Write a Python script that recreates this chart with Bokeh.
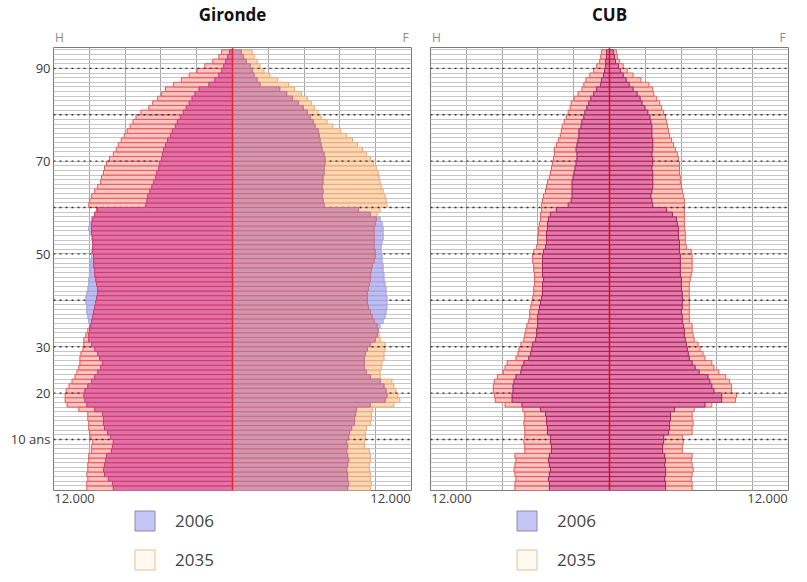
from bokeh.plotting import figure
from bokeh.models import (ColumnDataSource, FixedTicker, Range1d, Legend,
                          LegendItem, Span, LinearAxis)
from bokeh.layouts import row, column
from bokeh.transform import dodge
from bokeh.embed import file_html
from bokeh.resources import INLINE

FONT = "Open Sans"

# ---------------- data ----------------
ages = list(range(95))                      # single years of age 0..94
age_ticks = [10, 20, 30, 50, 70, 90]
age_tick_overrides = {10: "10 ans"}
decades = [10, 20, 30, 40, 50, 60, 70, 80, 90]
x_max = 12000
x_grid = [-9600, -7200, -4800, -2400, 2400, 4800, 7200, 9600]
x_tick_label = "12.000"
legend_labels = ["2006", "2035"]
titles = ["Gironde", "CUB"]
side_labels = ["H", "F"]

gironde_h_2006 = [7990, 8050, 8320, 8580, 8650, 8580, 8510, 8450, 8120, 8050,
                  7990, 8180, 8380, 8580, 8650, 8650, 8710, 9240, 9770, 9900,
                  9970, 9900, 9700, 9440, 9240, 9040, 8840, 8710, 8910, 9040,
                  9240, 9440, 9640, 9640, 9570, 9500, 9640, 9700, 9770, 9770,
                  9830, 9830, 9770, 9700, 9640, 9640, 9570, 9570, 9500, 9500,
                  9440, 9440, 9370, 9370, 9440, 9500, 9640, 9570, 9440, 9240,
                  9040, 5810, 5740, 5680, 5540, 5410, 5280, 5150, 5080, 4950,
                  4880, 4750, 4690, 4620, 4490, 4360, 4160, 4030, 3830, 3700,
                  3500, 3300, 3100, 2900, 2710, 2510, 2240, 1580, 1190, 920,
                  730, 590, 460, 330, 200]
gironde_h_2035 = [9770, 9770, 9700, 9770, 9700, 9700, 9640, 9640, 9440, 9440,
                  9370, 9500, 9570, 9640, 9640, 9700, 9700, 10300, 11090, 11220,
                  11220, 11150, 10960, 10760, 10560, 10430, 10300, 10230, 10230, 10160,
                  10030, 9970, 9970, 9830, 9700, 9570, 9440, 9370, 9310, 9240,
                  9170, 9110, 9040, 9040, 9110, 9170, 9240, 9240, 9310, 9310,
                  9310, 9370, 9370, 9370, 9370, 9440, 9440, 9440, 9370, 9240,
                  9110, 9640, 9570, 9440, 9240, 9040, 8840, 8780, 8650, 8580,
                  8450, 8250, 7990, 7790, 7660, 7460, 7260, 7060, 6860, 6670,
                  6470, 6140, 5610, 5350, 5020, 4750, 4490, 3960, 3430, 2900,
                  2380, 1850, 1320, 920, 730]
gironde_f_2006 = [7720, 7790, 7720, 7720, 7660, 7720, 7790, 7720, 7660, 7720,
                  7660, 7790, 7850, 7990, 8180, 8180, 8250, 8320, 9240, 10230,
                  10360, 10300, 10160, 9900, 9240, 8980, 8840, 8840, 8840, 8910,
                  9040, 9240, 9570, 9700, 9770, 9900, 10100, 10230, 10300, 10360,
                  10360, 10360, 10300, 10300, 10230, 10160, 10160, 10100, 10100, 10030,
                  10030, 9970, 9970, 10030, 10100, 10100, 10100, 10030, 9900, 9240,
                  8450, 6140, 6070, 6010, 6070, 6010, 6070, 6070, 6140, 6140,
                  6200, 6200, 6140, 6010, 5940, 5870, 5810, 5740, 5540, 5410,
                  5210, 5020, 4750, 4420, 4030, 3630, 3170, 1850, 1650, 1450,
                  1320, 1190, 920, 730, 590]
gironde_f_2035 = [9240, 9310, 9240, 9240, 9170, 9170, 9240, 9240, 9170, 8840,
                  8840, 8910, 8910, 8980, 9240, 9310, 9310, 9370, 10820, 11220,
                  11090, 10960, 10820, 10690, 9900, 9900, 9970, 10030, 10160, 10160,
                  10230, 10230, 9900, 9830, 9770, 9700, 9500, 9370, 9240, 9110,
                  9040, 9040, 9040, 9110, 9170, 9240, 9240, 9310, 9370, 9500,
                  9570, 9570, 9500, 9500, 9500, 9500, 9500, 9570, 9640, 9700,
                  9900, 10360, 10300, 10230, 10100, 9970, 9900, 9830, 9770, 9640,
                  9440, 9240, 8980, 8710, 8380, 8050, 7660, 7260, 6730, 6340,
                  5940, 5740, 5480, 5280, 5020, 4620, 4160, 3760, 3040, 2510,
                  2110, 1850, 1650, 1450, 1320]

cub_h_2006 = [4030, 4030, 4090, 4030, 3960, 4030, 4090, 4030, 3890, 3890,
              3960, 3960, 4160, 4160, 4220, 4220, 4290, 4620, 5870, 6530,
              6530, 6470, 6470, 6400, 6270, 5940, 5870, 5740, 5410, 5280,
              5210, 5150, 4950, 4880, 4880, 4820, 4820, 4820, 4750, 4690,
              4620, 4550, 4490, 4490, 4490, 4420, 4490, 4490, 4490, 4490,
              4490, 4420, 4290, 4220, 4220, 4220, 4160, 4160, 4090, 3960,
              3560, 2770, 2570, 2510, 2510, 2510, 2510, 2440, 2380, 2310,
              2240, 2180, 2180, 2240, 2180, 2110, 2050, 2050, 1910, 1850,
              1720, 1650, 1520, 1390, 1250, 1060, 860, 590, 530, 400,
              330, 260, 260, 200, 200]
cub_h_2035 = [6340, 6340, 6270, 6340, 6400, 6340, 6270, 6340, 5680, 5680,
              5740, 5680, 5680, 5680, 5740, 5680, 5680, 5810, 7000, 7660,
              7720, 7790, 7790, 7720, 7520, 7130, 7000, 6860, 6270, 6140,
              6070, 5940, 5740, 5680, 5610, 5540, 5410, 5350, 5350, 5280,
              5210, 5150, 5080, 5080, 5020, 5020, 5020, 5080, 5080, 5150,
              5150, 5080, 4880, 4820, 4820, 4750, 4750, 4690, 4620, 4620,
              4550, 4550, 4490, 4420, 4290, 4220, 4160, 4030, 3960, 3890,
              3830, 3760, 3700, 3700, 3560, 3430, 3300, 3230, 3170, 3040,
              2900, 2770, 2640, 2570, 2380, 2110, 1850, 1720, 1580, 1320,
              1060, 860, 660, 590, 530]
cub_f_2006 = [3760, 3760, 3700, 3760, 3760, 3700, 3760, 3700, 3560, 3560,
              3630, 3630, 3960, 4030, 4030, 4090, 4090, 4360, 6400, 7520,
              7520, 7000, 6860, 6730, 6600, 6010, 5740, 5540, 5350, 5280,
              5210, 5150, 5080, 5020, 5020, 4950, 4880, 4880, 4820, 4880,
              4880, 4880, 4880, 4820, 4820, 4820, 4750, 4750, 4750, 4750,
              4750, 4690, 4690, 4690, 4620, 4620, 4620, 4550, 4490, 4220,
              3830, 2900, 2840, 2770, 2840, 2900, 2900, 2900, 2900, 2840,
              2900, 2900, 2840, 2900, 2900, 2900, 2840, 2840, 2840, 2770,
              2710, 2570, 2380, 2180, 2050, 1850, 1580, 1320, 1120, 920,
              730, 590, 400, 330, 260]
cub_f_2035 = [5540, 5540, 5480, 5540, 5610, 5540, 5480, 5540, 4880, 4880,
              4950, 4880, 5540, 5540, 5610, 5540, 5540, 5680, 6860, 8450,
              8510, 8180, 8180, 8050, 7790, 7330, 7000, 6860, 6400, 6270,
              6070, 5940, 5680, 5610, 5540, 5540, 5350, 5350, 5350, 5350,
              5350, 5350, 5350, 5350, 5350, 5410, 5480, 5540, 5540, 5540,
              5540, 5480, 5150, 5080, 5080, 5080, 5020, 5020, 5020, 5020,
              5020, 5020, 5020, 4950, 4880, 4820, 4750, 4750, 4690, 4690,
              4690, 4620, 4550, 4420, 4290, 4160, 4030, 3960, 3890, 3830,
              3760, 3630, 3500, 3370, 3170, 2970, 2900, 2640, 2110, 1580,
              1190, 920, 660, 530, 460]

# ---------------- styles ----------------
LAVENDER = "#bdbdf2"
LAVENDER_LINE = "#a2a2da"
gironde_style = dict(h35_fill="#f7c5c1", h35_line="#e6585a",
                     f35_fill="#fad8b4", f35_line="#e8a77a",
                     h_ov_fill="#e172a8", h_ov_line="#cf3a6a",
                     f_ov_fill="#d296ae", f_ov_line="#c86c84",
                     center="#e8262e")
cub_style = dict(h35_fill="#f7c5c1", h35_line="#e6585a",
                 f35_fill="#f8c8bc", f35_line="#e6605c",
                 h_ov_fill="#e27aac", h_ov_line="#a82456",
                 f_ov_fill="#e27aac", f_ov_line="#a82456",
                 center="#d81020")

FRAME_W = 358
FRAME_H = 443
LEG_H = 67
PX = 2 * x_max / FRAME_W          # data units per screen pixel (layout only)
side_ticks = [-x_max + 6 * PX, x_max - 6 * PX]
end_ticks = [-x_max + 21 * PX, x_max - 21 * PX]


def style_axis(ax, size, color, standoff=3):
    ax.axis_line_color = None
    ax.major_tick_line_color = None
    ax.minor_tick_line_color = None
    ax.major_tick_out = 0
    ax.major_tick_in = 0
    ax.minor_tick_out = 0
    ax.minor_tick_in = 0
    ax.major_label_standoff = standoff
    ax.major_label_text_font = FONT
    ax.major_label_text_font_size = size
    ax.major_label_text_color = color


def make_pyramid(title, h06, h35, f06, f35, st, show_age_axis, b_left, b_right):
    p = figure(frame_width=FRAME_W, frame_height=FRAME_H,
               x_range=Range1d(-x_max, x_max), y_range=Range1d(-1, 94.5),
               output_backend="svg", toolbar_location=None,
               min_border_left=b_left, min_border_right=b_right,
               min_border_top=0, min_border_bottom=0,
               x_axis_location=None,
               y_axis_location="left" if show_age_axis else None,
               title=title)
    p.outline_line_color = "#7a7a7a"
    p.outline_line_width = 1
    p.background_fill_color = "white"
    p.border_fill_color = "white"

    p.title.align = "center"
    p.title.text_font = FONT
    p.title.text_font_size = "17px"
    p.title.text_font_style = "bold"
    p.title.text_color = "#111111"
    p.title.standoff = 0

    # "H" / "F" above the frame
    top_ax = LinearAxis(ticker=FixedTicker(ticks=side_ticks),
                        major_label_overrides={side_ticks[0]: side_labels[0],
                                               side_ticks[1]: side_labels[1]})
    style_axis(top_ax, "12px", "#8a8a8a", standoff=2)
    p.add_layout(top_ax, "above")

    # "12.000" at both ends below the frame
    bot_ax = LinearAxis(ticker=FixedTicker(ticks=end_ticks),
                        major_label_overrides={end_ticks[0]: x_tick_label,
                                               end_ticks[1]: x_tick_label})
    style_axis(bot_ax, "13px", "#444444")
    p.add_layout(bot_ax, "below")

    p.xgrid.ticker = FixedTicker(ticks=x_grid)
    p.xgrid.grid_line_color = "#a6a6a6"
    p.ygrid.ticker = FixedTicker(ticks=list(range(-1, 95)))
    p.ygrid.grid_line_color = "#c6c6c6"

    if show_age_axis:
        ax = p.yaxis[0]
        ax.ticker = FixedTicker(ticks=age_ticks)
        ax.major_label_overrides = age_tick_overrides
        style_axis(ax, "13px", "#3a3a3a")

    src = ColumnDataSource(dict(
        age=ages,
        h06=[-v for v in h06], h35=[-v for v in h35],
        f06=f06, f35=f35,
        hmin=[-min(a, b) for a, b in zip(h06, h35)],
        fmin=[min(a, b) for a, b in zip(f06, f35)],
    ))
    y = dodge("age", -0.5)

    # 2035 (outer, light)
    p.hbar(y=y, left="h35", right=0, height=1, source=src,
           fill_color=st["h35_fill"], line_color=st["h35_line"], line_width=1)
    p.hbar(y=y, left=0, right="f35", height=1, source=src,
           fill_color=st["f35_fill"], line_color=st["f35_line"], line_width=1)

    # dotted decade lines
    p.segment(x0=-x_max, x1=x_max, y0=decades, y1=decades,
              line_color="#303030", line_dash="2 4", line_width=1.4)

    # 2006 (lavender where it exceeds 2035)
    p.hbar(y=y, left="h06", right=0, height=1, source=src,
           fill_color=LAVENDER, line_color=LAVENDER_LINE, line_width=1)
    p.hbar(y=y, left=0, right="f06", height=1, source=src,
           fill_color=LAVENDER, line_color=LAVENDER_LINE, line_width=1)

    # overlap of both years
    p.hbar(y=y, left="hmin", right=0, height=1, source=src,
           fill_color=st["h_ov_fill"], line_color=st["h_ov_line"], line_width=1)
    p.hbar(y=y, left=0, right="fmin", height=1, source=src,
           fill_color=st["f_ov_fill"], line_color=st["f_ov_line"], line_width=1)

    p.add_layout(Span(location=0, dimension="height",
                      line_color=st["center"], line_width=1.5))
    return p


def make_legend(total_width, x_pos):
    # legend-only strip; the swatch renderers hold one placeholder bar each,
    # placed outside the visible range so only the legend swatch shows
    q = figure(width=total_width, height=LEG_H, output_backend="svg",
               toolbar_location=None, x_axis_location=None, y_axis_location=None,
               min_border=0, x_range=Range1d(0, 1), y_range=Range1d(0, 1))
    q.outline_line_color = None
    q.xgrid.grid_line_color = None
    q.ygrid.grid_line_color = None
    swatch = ColumnDataSource(dict(y=[-10], left=[0], right=[1]))
    leg06 = q.hbar(y="y", left="left", right="right", height=1, source=swatch,
                   fill_color="#c6c6f6", line_color="#8a8aa8", line_width=1)
    leg35 = q.hbar(y="y", left="left", right="right", height=1, source=swatch,
                   fill_color="#fff9ef", line_color="#e2c096", line_width=1)
    legend = Legend(items=[LegendItem(label=legend_labels[0], renderers=[leg06]),
                           LegendItem(label=legend_labels[1], renderers=[leg35])],
                    location=(x_pos, 0), orientation="vertical",
                    glyph_width=25, glyph_height=25, spacing=14, padding=0, margin=0,
                    label_standoff=18, label_text_font=FONT,
                    label_text_font_size="17px", label_text_color="#444444",
                    background_fill_alpha=0, border_line_alpha=0)
    q.add_layout(legend)
    return q


p1 = make_pyramid(titles[0], gironde_h_2006, gironde_h_2035, gironde_f_2006,
                  gironde_f_2035, gironde_style, True, 53, 9)
p2 = make_pyramid(titles[1], cub_h_2006, cub_h_2035, cub_f_2006,
                  cub_f_2035, cub_style, False, 10, 2)
l1 = make_legend(53 + FRAME_W + 9, 53 + 79)
l2 = make_legend(10 + FRAME_W + 2, 10 + 84)

layout = column(row(p1, p2), row(l1, l2), spacing=0)
open("out.html", "w").write(file_html(layout, INLINE))
